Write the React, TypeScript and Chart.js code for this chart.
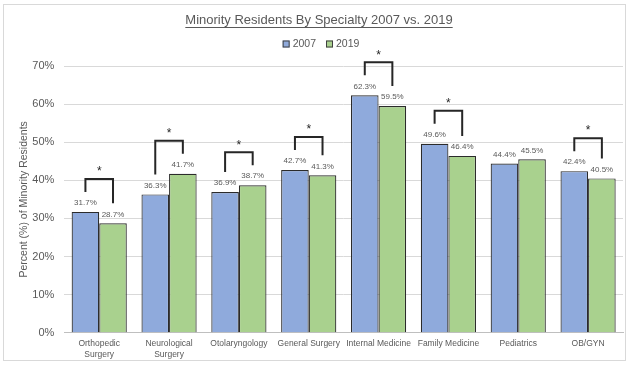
import React, { useEffect, useRef } from 'react';
import { Chart, registerables } from 'chart.js';

Chart.register(...registerables);

const titleText = 'Minority Residents By Specialty 2007 vs. 2019';
const yAxisTitle = 'Percent (%) of Minority Residents';
const categories: (string | string[])[] = [
  ['Orthopedic', 'Surgery'],
  ['Neurological', 'Surgery'],
  'Otolaryngology',
  'General Surgery',
  'Internal Medicine',
  'Family Medicine',
  'Pediatrics',
  'OB/GYN',
];
const seriesLabels = ['2007', '2019'];
const values2007 = [31.7, 36.3, 36.9, 42.7, 62.3, 49.6, 44.4, 42.4];
const values2019 = [28.7, 41.7, 38.7, 41.3, 59.5, 46.4, 45.5, 40.5];
const significant = [true, true, true, true, true, true, false, true];
const yMin = 0;
const yMax = 70;
const yStep = 10;

const FONT = "'Liberation Sans', Arial, sans-serif";
const BLUE = '#8faadc';
const GREEN = '#a9d18e';
const TEXT = '#595959';
const colors = [BLUE, GREEN];

const overlayPlugin = {
  id: 'overlay',
  afterDatasetsDraw(chart: any) {
    const ctx = chart.ctx;
    const m0 = chart.getDatasetMeta(0);
    const m1 = chart.getDatasetMeta(1);
    ctx.save();
    // data labels
    ctx.font = `8px ${FONT}`;
    ctx.fillStyle = TEXT;
    ctx.textAlign = 'center';
    ctx.textBaseline = 'middle';
    [m0, m1].forEach((meta: any, di: number) => {
      const vals = di === 0 ? values2007 : values2019;
      meta.data.forEach((bar: any, i: number) => {
        ctx.fillText(vals[i].toFixed(1) + '%', bar.x, bar.y - 9);
      });
    });
    // brackets
    ctx.strokeStyle = '#262626';
    ctx.lineWidth = 2;
    ctx.lineJoin = 'miter';
    significant.forEach((sig, i) => {
      if (!sig) return;
      const b0 = m0.data[i];
      const b1 = m1.data[i];
      const yL = b0.y - 20;
      const yR = b1.y - 20;
      const top = Math.min(yL, yR) - 13;
      ctx.beginPath();
      ctx.moveTo(b0.x, yL);
      ctx.lineTo(b0.x, top);
      ctx.lineTo(b1.x, top);
      ctx.lineTo(b1.x, yR);
      ctx.stroke();
      ctx.fillStyle = '#262626';
      ctx.font = `12px ${FONT}`;
      ctx.fillText('*', (b0.x + b1.x) / 2, top - 7);
    });
    ctx.restore();
  },
  afterDraw(chart: any) {
    const ctx = chart.ctx;
    ctx.save();
    // title
    ctx.font = `13px ${FONT}`;
    ctx.fillStyle = TEXT;
    ctx.textAlign = 'center';
    ctx.textBaseline = 'middle';
    const cx = 319;
    const ty = 20;
    ctx.fillText(titleText, cx, ty);
    const w = ctx.measureText(titleText).width;
    ctx.strokeStyle = TEXT;
    ctx.lineWidth = 1;
    ctx.beginPath();
    ctx.moveTo(cx - w / 2, ty + 7.5);
    ctx.lineTo(cx + w / 2, ty + 7.5);
    ctx.stroke();
    // legend
    ctx.font = `10.5px ${FONT}`;
    ctx.textAlign = 'left';
    const box = 7;
    const gapBox = 3;
    const gapItem = 10;
    const widths = seriesLabels.map((s) => box + gapBox + ctx.measureText(s).width);
    const total = widths.reduce((a, b) => a + b, 0) + gapItem * (seriesLabels.length - 1);
    let x = 321 - total / 2;
    const ly = 44;
    seriesLabels.forEach((s, i) => {
      ctx.fillStyle = colors[i];
      ctx.fillRect(x, ly - box / 2, box, box);
      ctx.strokeStyle = '#404040';
      ctx.lineWidth = 1;
      ctx.strokeRect(x + 0.5, ly - box / 2 + 0.5, box - 1, box - 1);
      ctx.fillStyle = TEXT;
      ctx.fillText(s, x + box + gapBox, ly);
      x += widths[i] + gapItem;
    });
    ctx.restore();
  },
};

export default function App() {
  const ref = useRef<HTMLCanvasElement>(null);
  useEffect(() => {
    if (!ref.current) return;
    const chart = new Chart(ref.current, {
      type: 'bar',
      data: {
        labels: categories,
        datasets: [
          {
            label: seriesLabels[0],
            data: values2007,
            backgroundColor: BLUE,
            borderColor: '#2b2b2b',
            borderWidth: 1.2,
            categoryPercentage: 0.79,
            barPercentage: 1,
          },
          {
            label: seriesLabels[1],
            data: values2019,
            backgroundColor: GREEN,
            borderColor: '#2b2b2b',
            borderWidth: 1.2,
            categoryPercentage: 0.79,
            barPercentage: 1,
          },
        ],
      },
      options: {
        responsive: false,
        animation: false,
        events: [],
        layout: { padding: { top: 66, right: 7, left: 18, bottom: 0 } },
        plugins: {
          legend: { display: false },
          title: { display: false },
          tooltip: { enabled: false },
        },
        scales: {
          x: {
            grid: { display: false, drawTicks: false },
            border: { display: true, color: '#bfbfbf', width: 1 },
            ticks: {
              color: TEXT,
              font: { family: FONT, size: 8.5, lineHeight: 1.3 },
              padding: 5,
              maxRotation: 0,
              autoSkip: false,
            },
            afterFit: (scale: any) => {
              scale.height = 32.3;
            },
          },
          y: {
            min: yMin,
            max: yMax,
            grid: { color: '#d9d9d9', drawTicks: false },
            border: { display: false },
            ticks: {
              stepSize: yStep,
              color: TEXT,
              font: { family: FONT, size: 11 },
              padding: 10,
              callback: (v: any) => v + '%',
            },
            title: {
              display: true,
              text: yAxisTitle,
              color: TEXT,
              font: { family: FONT, size: 10.5 },
              padding: { top: 0, bottom: 0 },
            },
            afterFit: (scale: any) => {
              scale.width = 46.3;
            },
          },
        },
      },
      plugins: [overlayPlugin],
    });
    return () => chart.destroy();
  }, []);
  return (
    <div style={{ position: 'absolute', left: 0, top: 0, width: 630, height: 365, background: '#fff' }}>
      <div
        style={{
          position: 'absolute',
          left: 3,
          top: 4,
          width: 623,
          height: 357,
          border: '1px solid #d9d9d9',
          boxSizing: 'border-box',
        }}
      />
      <canvas ref={ref} width={630} height={365} style={{ position: 'absolute', left: 0, top: 0 }} />
    </div>
  );
}
